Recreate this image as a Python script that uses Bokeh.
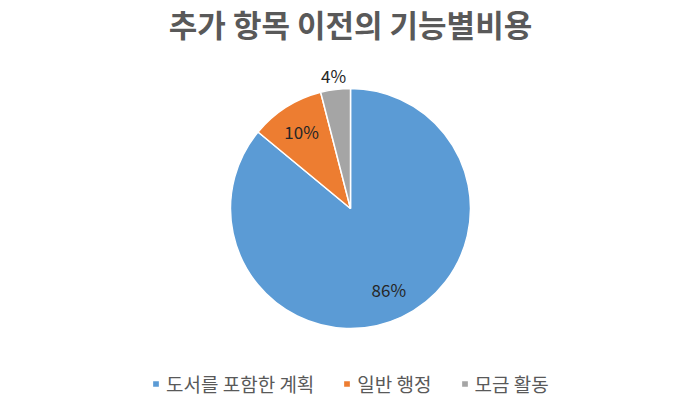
import math
from bokeh.plotting import figure
from bokeh.models import Range1d, Legend, LegendItem, ColumnDataSource
from bokeh.core.properties import value
from bokeh.embed import file_html
from bokeh.resources import INLINE

title_text = "추가 항목 이전의 기능별비용"
categories = ["도서를 포함한 계획", "일반 행정", "모금 활동"]
shares = [86, 10, 4]
colors = ["#5B9BD5", "#ED7D31", "#A5A5A5"]
label_radius = [0.75, 0.76, 1.12]

W, H = 700, 400
FONT = "Noto Sans CJK KR"

p = figure(width=W, height=H, x_range=Range1d(0, W), y_range=Range1d(0, H),
           output_backend="svg", toolbar_location=None, min_border=0)
p.axis.visible = False
p.grid.visible = False
p.outline_line_color = None
p.background_fill_color = "white"

cx, cy, r = 350, 192, 120
total = sum(shares)
starts, ends, lx, ly, ltxt = [], [], [], [], []
cum = 0.0
for i, s in enumerate(shares):
    a0 = math.pi / 2 - 2 * math.pi * cum / total
    cum += s
    a1 = math.pi / 2 - 2 * math.pi * cum / total
    starts.append(a0)
    ends.append(a1)
    mid = (a0 + a1) / 2
    lx.append(cx + r * label_radius[i] * math.cos(mid))
    ly.append(cy + r * label_radius[i] * math.sin(mid))
    ltxt.append(f"{round(100 * s / total)}%")

src = ColumnDataSource(dict(start=starts, end=ends, color=colors, cat=categories))
wr = p.wedge(x=cx, y=cy, radius=r, start_angle="start", end_angle="end",
             direction="clock", fill_color="color", line_color="white",
             line_width=1.5, source=src)

p.text(x=lx, y=ly, text=ltxt, text_align="center", text_baseline="middle",
       text_font=value(FONT), text_font_size="17px", text_color="#262626")

p.text(x=[350], y=[377], text=[title_text], text_align="center",
       text_baseline="middle", text_font=value(FONT), text_font_size="31px",
       text_font_style="bold", text_color="#595959")

items = [LegendItem(label=c, renderers=[wr], index=i) for i, c in enumerate(categories)]
legend = Legend(items=items, orientation="horizontal", location=(151, 3),
                glyph_width=9, glyph_height=9, label_standoff=6, spacing=28,
                label_height=19, padding=0, margin=0, border_line_color=None,
                background_fill_alpha=0, label_text_font=FONT,
                label_text_font_size="19px", label_text_color="#595959")
p.add_layout(legend)

open("out.html", "w").write(file_html(p, INLINE))
